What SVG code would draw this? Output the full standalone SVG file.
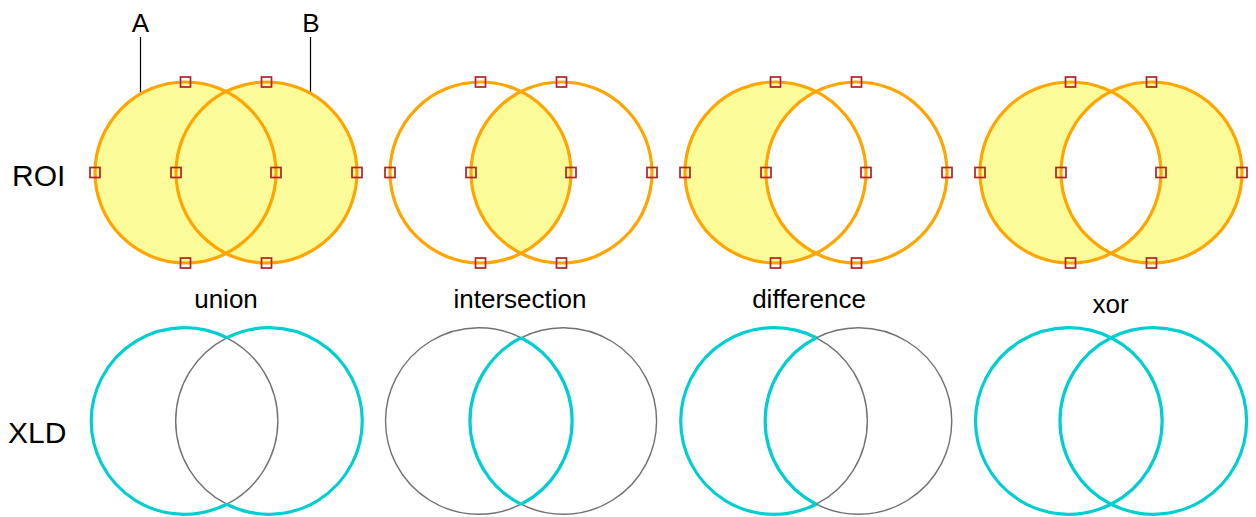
<svg xmlns="http://www.w3.org/2000/svg" xmlns:xlink="http://www.w3.org/1999/xlink" width="1256" height="517" viewBox="0 0 1256 517">
<style>
.t{font-family:"Liberation Sans",Arial,sans-serif;fill:#000}
.big{font-size:30px}
.lab{font-size:26px;text-anchor:middle}
.fill{fill:#FBFB9A;stroke:none}
.hole{fill:#FFFFFF;stroke:none}
.ring{fill:none;stroke:#FFA500;stroke-width:3.2}
.h{fill:none;stroke:#B22222;stroke-width:1.7}
.cy{fill:none;stroke:#00CED1;stroke-width:3.2}
.gr{fill:none;stroke:#707070;stroke-width:1.4}
.lead{stroke:#000;stroke-width:1.2}
</style>
<defs>
<circle id="cA" cx="0" cy="0" r="90.5"/>
<circle id="cB" cx="81" cy="0" r="90.5"/>
<path id="lens" d="M40.5 -80.93 A90.5 90.5 0 0 1 40.5 80.93 A90.5 90.5 0 0 1 40.5 -80.93 Z"/>
<g id="handles">
<rect class="h" x="-95.5" y="-5" width="10" height="10"/>
<rect class="h" x="85.5" y="-5" width="10" height="10"/>
<rect class="h" x="-14.5" y="-5" width="10" height="10"/>
<rect class="h" x="166.5" y="-5" width="10" height="10"/>
<rect class="h" x="-5" y="-95.5" width="10" height="10"/>
<rect class="h" x="-5" y="85.5" width="10" height="10"/>
<rect class="h" x="76" y="-95.5" width="10" height="10"/>
<rect class="h" x="76" y="85.5" width="10" height="10"/>
</g>
<g id="rings">
<use xlink:href="#cA" class="ring"/>
<use xlink:href="#cB" class="ring"/>
</g>
<path id="aOut" d="M42.25 -83.2 A93.3 93.3 0 1 0 42.25 83.2"/>
<path id="aIn" d="M42.25 -83.2 A93.3 93.3 0 0 1 42.25 83.2"/>
<path id="bOut" d="M42.25 -83.2 A93.3 93.3 0 1 1 42.25 83.2"/>
<path id="bIn" d="M42.25 -83.2 A93.3 93.3 0 0 0 42.25 83.2"/>
</defs>

<g id="row-labels">
<text class="t big" x="12" y="186">ROI</text>
<text class="t big" x="8" y="443">XLD</text>
</g>

<g id="label-A">
<text class="t lab" x="140.5" y="31.5">A</text>
<line class="lead" x1="140.5" y1="37" x2="140.5" y2="92"/>
</g>
<g id="label-B">
<text class="t lab" x="311" y="31.5">B</text>
<line class="lead" x1="310.5" y1="37" x2="310.5" y2="93"/>
</g>

<g id="roi-union" transform="translate(185.5,172.5)">
<use xlink:href="#cA" class="fill"/>
<use xlink:href="#cB" class="fill"/>
<use xlink:href="#rings"/>
<use xlink:href="#handles"/>
</g>
<g id="roi-intersection" transform="translate(480.5,172.5)">
<use xlink:href="#lens" class="fill"/>
<use xlink:href="#rings"/>
<use xlink:href="#handles"/>
</g>
<g id="roi-difference" transform="translate(775.5,172.5)">
<use xlink:href="#cA" class="fill"/>
<use xlink:href="#lens" class="hole"/>
<use xlink:href="#rings"/>
<use xlink:href="#handles"/>
</g>
<g id="roi-xor" transform="translate(1070.5,172.5)">
<use xlink:href="#cA" class="fill"/>
<use xlink:href="#cB" class="fill"/>
<use xlink:href="#lens" class="hole"/>
<use xlink:href="#rings"/>
<use xlink:href="#handles"/>
</g>

<g id="op-labels">
<text class="t lab" x="226" y="308">union</text>
<text class="t lab" x="520" y="308">intersection</text>
<text class="t lab" x="809" y="308">difference</text>
<text class="t lab" x="1110.5" y="313">xor</text>
</g>

<g id="xld-union" transform="translate(184.5,421)">
<use xlink:href="#aIn" class="gr"/>
<use xlink:href="#bIn" class="gr"/>
<use xlink:href="#aOut" class="cy"/>
<use xlink:href="#bOut" class="cy"/>
</g>
<g id="xld-intersection" transform="translate(478.8,421)">
<use xlink:href="#aOut" class="gr"/>
<use xlink:href="#bOut" class="gr"/>
<use xlink:href="#aIn" class="cy"/>
<use xlink:href="#bIn" class="cy"/>
</g>
<g id="xld-difference" transform="translate(774,421)">
<use xlink:href="#aIn" class="gr"/>
<use xlink:href="#bOut" class="gr"/>
<use xlink:href="#aOut" class="cy"/>
<use xlink:href="#bIn" class="cy"/>
</g>
<g id="xld-xor" transform="translate(1068.8,421)">
<use xlink:href="#aOut" class="cy"/>
<use xlink:href="#bOut" class="cy"/>
<use xlink:href="#aIn" class="cy"/>
<use xlink:href="#bIn" class="cy"/>
</g>
<g id="connectors"/>
</svg>
